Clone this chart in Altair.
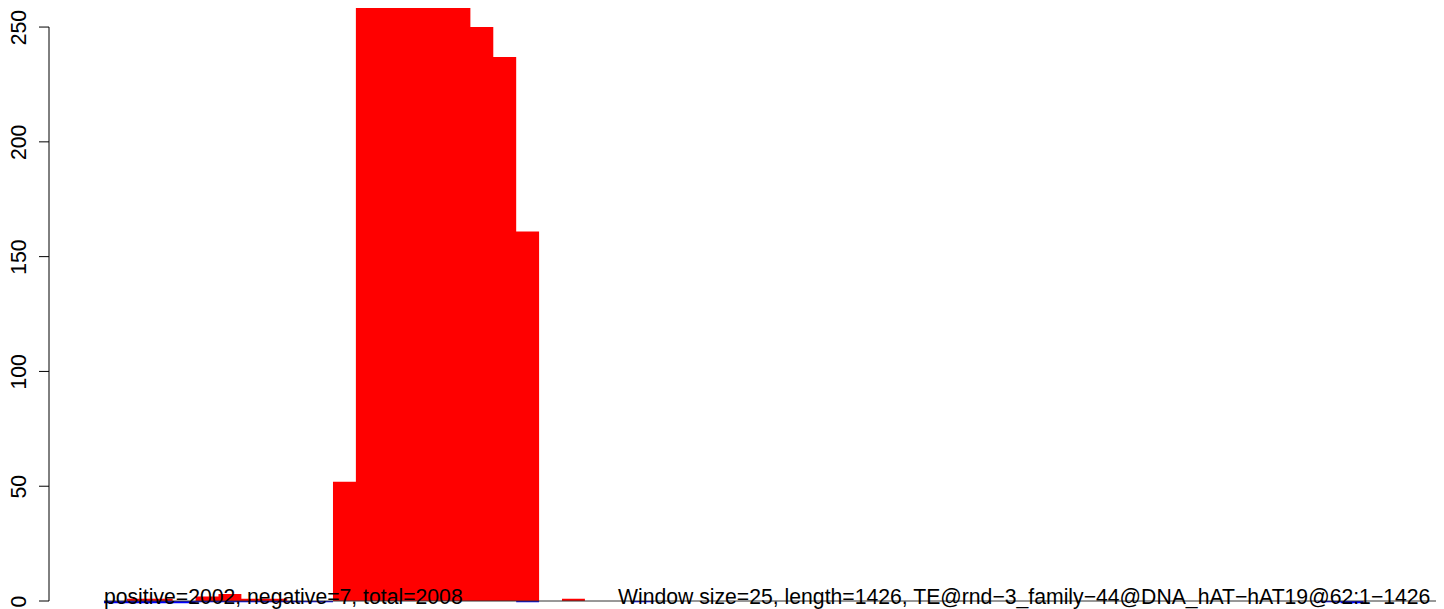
import altair as alt
import pandas as pd

WINDOW = 25
LENGTH = 1426

# per-window coverage (positive strand, red)
positive = [0, 1, 1, 0, 2, 3, 1, 1, 0, 0,
            52, 259, 259, 259, 259, 259, 250, 237, 161, 0,
            1]
# per-window coverage (negative strand, blue), drawn below zero
negative = {0: -1, 1: -1, 2: -1, 3: -1, 4: -0.5, 5: -0.5, 6: -0.5, 7: -0.5,
            8: -0.5, 9: -0.5, 18: -0.5, 23: -0.5, 53: -0.5, 54: -1}

y_ticks = [0, 50, 100, 150, 200, 250]
label_left = "positive=2002, negative=7, total=2008"
label_right = "Window size=25, length=1426, TE@rnd\u22123_family\u221244@DNA_hAT\u2212hAT19@62:1\u22121426"

n_windows = LENGTH // WINDOW + 1
pos_full = positive + [0] * (n_windows - len(positive))
neg_full = [negative.get(i, 0) for i in range(n_windows)]

# step series: value at the start of each window, closing point at the end
def step_frame(vals):
    rows = [{"pos": i * WINDOW, "value": v} for i, v in enumerate(vals)]
    rows.append({"pos": n_windows * WINDOW, "value": 0})
    return pd.DataFrame(rows)

FONT = "Liberation Sans"
FS = 21.2
xs = alt.Scale(domain=[-60, 1454.1], nice=False, zero=False)
ys = alt.Scale(domain=[-3.48, 258.3], nice=False, zero=False)

yaxis = alt.Axis(values=y_ticks, domain=False, grid=False, ticks=False,
                 labelAngle=270, labelAlign="center", labelBaseline="alphabetic",
                 labelPadding=24, labelFont=FONT, labelFontSize=FS,
                 labelColor="black", title=None)

pos_area = alt.Chart(step_frame(pos_full)).mark_area(
    interpolate="step-after", color="#ff0000", opacity=1).encode(
    x=alt.X("pos:Q", scale=xs, axis=None, sort=None),
    y=alt.Y("value:Q", scale=ys, axis=yaxis, stack=None),
    y2=alt.Y2(datum=0),
)
neg_area = alt.Chart(step_frame(neg_full)).mark_area(
    interpolate="step-after", color="#0000ff", opacity=1).encode(
    x=alt.X("pos:Q", scale=xs, sort=None),
    y=alt.Y("value:Q", scale=ys, stack=None),
    y2=alt.Y2(datum=0),
)

tick_df = pd.DataFrame({"t": y_ticks})
ticks = alt.Chart(tick_df).mark_rule(color="black", strokeWidth=1).encode(
    x=alt.value(-10), x2=alt.value(0), y=alt.Y("t:Q", scale=ys))

axis_line = alt.Chart(pd.DataFrame({"lo": [y_ticks[0]], "hi": [y_ticks[-1]]})).mark_rule(
    color="black", strokeWidth=1).encode(
    x=alt.value(0), y=alt.Y("lo:Q", scale=ys), y2="hi:Q")

zero_line = alt.Chart(pd.DataFrame({"a": [0], "b": [LENGTH + 40], "z": [0]})).mark_rule(
    color="#333333", strokeWidth=1).encode(
    x=alt.X("a:Q", scale=xs), x2="b:Q", y=alt.Y("z:Q", scale=ys))

texts = pd.DataFrame({
    "x": [0, 1448],
    "y": [-1.3, -1.3],
    "label": [label_left, label_right],
})
t_left = alt.Chart(texts.iloc[[0]]).mark_text(
    align="left", baseline="alphabetic", font=FONT, fontSize=FS, color="black").encode(
    x=alt.X("x:Q", scale=xs), y=alt.Y("y:Q", scale=ys), text="label:N")
t_right = alt.Chart(texts.iloc[[1]]).mark_text(
    align="right", baseline="alphabetic", font=FONT, fontSize=FS, color="black").encode(
    x=alt.X("x:Q", scale=xs), y=alt.Y("y:Q", scale=ys), text="label:N")

chart = alt.layer(pos_area, neg_area, zero_line, axis_line, ticks, t_left, t_right).properties(
    width=1387, height=601,
    background="white",
    autosize=alt.AutoSizeParams(type="none"),
    padding={"left": 41, "top": 0, "right": 0, "bottom": 0},
).configure_view(stroke=None)

chart.save("out.html", embed_options={"renderer": "svg", "actions": False})
